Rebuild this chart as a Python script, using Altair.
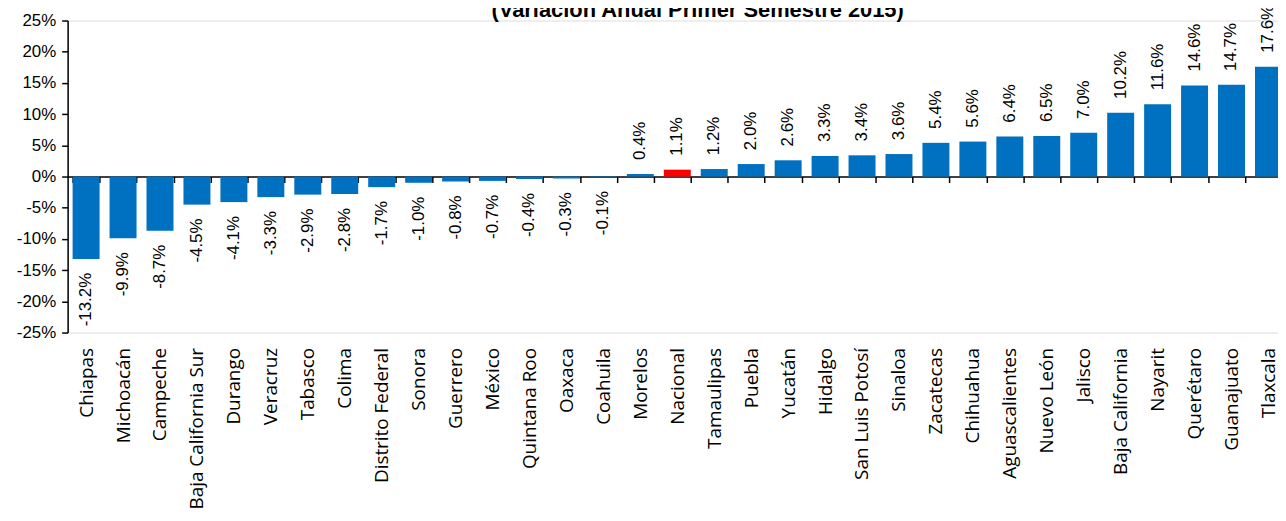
import altair as alt
import pandas as pd

states = ["Chiapas", "Michoacán", "Campeche", "Baja California Sur", "Durango",
          "Veracruz", "Tabasco", "Colima", "Distrito Federal", "Sonora",
          "Guerrero", "México", "Quintana Roo", "Oaxaca", "Coahuila",
          "Morelos", "Nacional", "Tamaulipas", "Puebla", "Yucatán",
          "Hidalgo", "San Luis Potosí", "Sinaloa", "Zacatecas", "Chihuahua",
          "Aguascalientes", "Nuevo León", "Jalisco", "Baja California", "Nayarit",
          "Querétaro", "Guanajuato", "Tlaxcala"]
values_pct = [-13.2, -9.9, -8.7, -4.5, -4.1,
              -3.3, -2.9, -2.8, -1.7, -1.0,
              -0.8, -0.7, -0.4, -0.3, -0.1,
              0.4, 1.1, 1.2, 2.0, 2.6,
              3.3, 3.4, 3.6, 5.4, 5.6,
              6.4, 6.5, 7.0, 10.2, 11.6,
              14.6, 14.7, 17.6]
highlight = "Nacional"
title_text = "(Variación Anual Primer Semestre 2015)"
y_ticks = [-0.25, -0.20, -0.15, -0.10, -0.05, 0.0, 0.05, 0.10, 0.15, 0.20, 0.25]

df = pd.DataFrame({
    "estado": states,
    "valor": [v / 100 for v in values_pct],
    "etiqueta": [f"{v:.1f}%" for v in values_pct],
    "grupo": ["Nacional" if s == highlight else "Estado" for s in states],
})

H = 314
W = 1218
RANGE_W = 1227

x_scale = alt.Scale(range=[0, RANGE_W], paddingInner=0.27, paddingOuter=0.135)
y_scale = alt.Scale(domain=[-0.25, 0.25], nice=False)

x_axis = alt.Axis(
    title=None, orient="bottom", offset=-H / 2,
    domainColor="black", domainWidth=1.5,
    tickColor="black", tickSize=6, tickWidth=1.5, tickBand="extent",
    labelAngle=-90, labelPadding=166, labelFont="Open Sans",
    labelFontSize=19, labelColor="black", labelLimit=400,
    labelOverlap=False,
)
y_axis = alt.Axis(
    title=None, values=y_ticks, grid=False,
    domainColor="black", domainWidth=1.5,
    tickColor="black", tickSize=6, tickWidth=1.5,
    labelExpr="round(datum.value*100) + '%'",
    labelFont="Liberation Sans", labelFontSize=17, labelColor="black",
    labelPadding=6, labelOverlap=False,
)

x_enc = alt.X("estado:N", sort=states, scale=x_scale, axis=x_axis)
y_enc = alt.Y("valor:Q", scale=y_scale, axis=y_axis)

base = alt.Chart(df)

bars = base.mark_bar().encode(
    x=x_enc, y=y_enc,
    color=alt.Color("grupo:N",
                    scale=alt.Scale(domain=["Estado", "Nacional"],
                                    range=["#0070C0", "#FF0000"]),
                    legend=None),
)

pos_labels = base.transform_filter("datum.valor >= 0").mark_text(
    angle=270, align="left", baseline="middle", dx=14,
    font="Liberation Sans", fontSize=17, color="black",
).encode(x=x_enc, y=y_enc, text="etiqueta:N")

neg_labels = base.transform_filter("datum.valor < 0").mark_text(
    angle=270, align="right", baseline="middle", dx=-14,
    font="Liberation Sans", fontSize=17, color="black",
).encode(x=x_enc, y=y_enc, text="etiqueta:N")

title = alt.Chart(pd.DataFrame({"t": [title_text]})).mark_text(
    align="center", baseline="alphabetic", font="Liberation Sans",
    fontSize=22, fontWeight="bold", color="black",
).encode(text="t:N", x=alt.value(634), y=alt.value(-4))

chart = alt.layer(bars, pos_labels, neg_labels, title).properties(
    width=W, height=H,
    autosize=alt.AutoSizeParams(type="none"),
    padding={"left": 60, "top": 11, "right": 0, "bottom": 180},
).configure_view(stroke="transparent", strokeWidth=0).configure(background="white")

chart.save("out.html", embed_options={"renderer": "svg", "actions": False})
